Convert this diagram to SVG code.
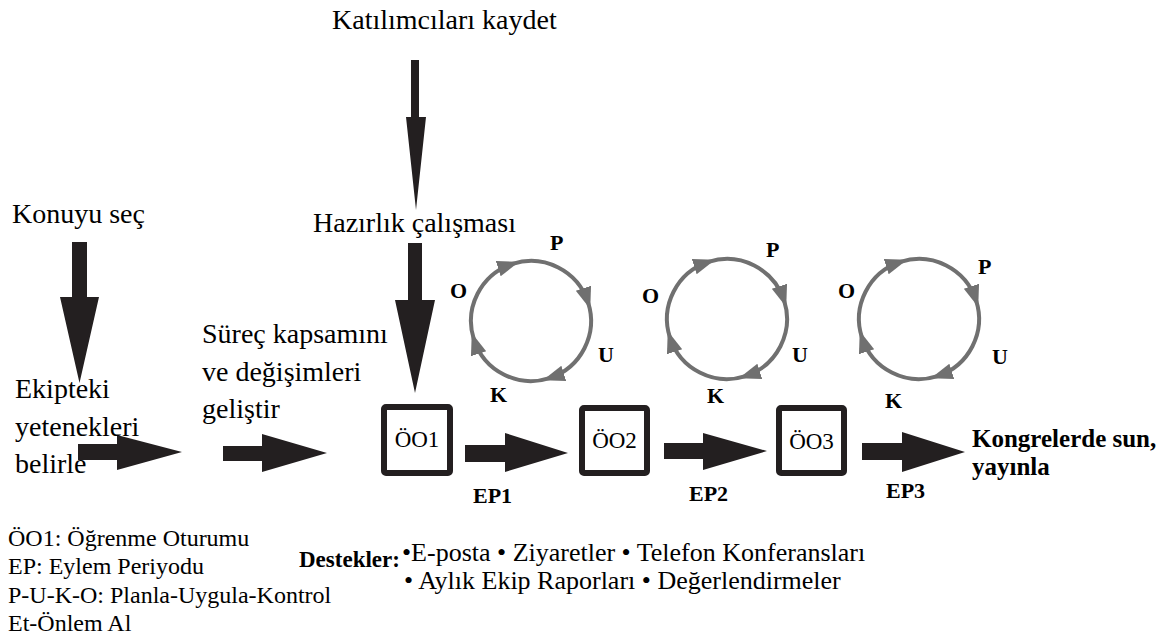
<svg xmlns="http://www.w3.org/2000/svg" width="1168" height="643" viewBox="0 0 1168 643">
<defs>
<marker id="ah" markerUnits="userSpaceOnUse" markerWidth="24" markerHeight="18" viewBox="0 -9 24 18" refX="15" refY="0" orient="auto">
<path d="M0,-8 L22,0 L0,8 Z" fill="#707070"/>
</marker>
<g id="cycle" fill="none" stroke="#707070" stroke-width="4">
<path marker-end="url(#ah)" d="M-57.06,18.54 A60,60 0 0 1 -18.54,-57.06"/>
<path marker-end="url(#ah)" d="M-18.54,-57.06 A60,60 0 0 1 57.06,-18.54"/>
<path marker-end="url(#ah)" d="M57.06,-18.54 A60,60 0 0 1 18.54,57.06"/>
<path marker-end="url(#ah)" d="M18.54,57.06 A60,60 0 0 1 -57.06,18.54"/>
</g>
</defs>
<rect width="1168" height="643" fill="#fff"/>

<g id="connectors" fill="#231f20">
<polygon points="411,60 419,60 419,117 426,117 416,210 406,117 411,117"/>
<polygon points="408,243 422,243 422,300 435,300 415,393 395,300 408,300"/>
<polygon points="72,242 87,242 87,297 99,297 79.5,383 60,297 72,297"/>
<polygon points="78,444 117,444 117,435 182,452 117,470 117,460 78,460"/>
<polygon points="223,446 262,446 262,434 327,453 262,472 262,461 223,461"/>
<polygon points="465,445 505,445 505,433 568,453 505,472 505,462 465,462"/>
<polygon points="664,443 703,443 703,433 767,451 703,470 703,459 664,459"/>
<polygon points="862,443 902,443 902,432 965,452 902,472 902,460 862,460"/>
</g>

<g id="katilimci" font-size="28"><text font-family="Liberation Serif" x="332" y="29">Katılımcıları kaydet</text></g>
<g id="hazirlik" font-size="28"><text font-family="Times New Roman" x="313" y="232">Hazırlık çalışması</text></g>
<g id="konuyu" font-size="28"><text font-family="Tinos" x="12" y="223">Konuyu seç</text></g>
<g id="ekipteki" font-size="28" font-family="serif"><text x="15" y="398">Ekipteki</text><text x="15" y="436">yetenekleri</text><text x="15" y="473">belirle</text></g>
<g id="surec" font-size="28" font-family="Liberation Serif, serif" font-weight="normal"><text x="202" y="343">Süreç kapsamını</text><text x="202" y="381">ve değişimleri</text><text x="202" y="418">geliştir</text></g>

<g id="oo1" font-size="23" font-family="Times New Roman, serif"><rect x="384" y="407" width="66" height="66" rx="2" fill="#fff" stroke="#231f20" stroke-width="6"/><text x="417" y="447" text-anchor="middle">ÖO1</text></g>
<g id="oo2" font-size="23" font-family="Times New Roman, serif"><rect x="582" y="408" width="65" height="65" rx="2" fill="#fff" stroke="#231f20" stroke-width="6"/><text x="614.5" y="448" text-anchor="middle">ÖO2</text></g>
<g id="oo3" font-size="23" font-family="Times New Roman, serif"><rect x="779" y="408" width="65" height="65" rx="2" fill="#fff" stroke="#231f20" stroke-width="6"/><text x="811.5" y="449" text-anchor="middle">ÖO3</text></g>

<g id="cycle1" font-size="22" font-weight="bold" font-family="Liberation Serif, serif"><use href="#cycle" transform="translate(531,321)"/>
<text x="550" y="250">P</text><text x="450" y="298">O</text><text x="598" y="362">U</text><text x="490" y="402">K</text></g>
<g id="cycle2" font-size="22" font-weight="bold" font-family="Liberation Serif, serif"><use href="#cycle" transform="translate(727,319)"/>
<text x="766" y="257">P</text><text x="642" y="303">O</text><text x="792" y="362">U</text><text x="707" y="403">K</text></g>
<g id="cycle3" font-size="22" font-weight="bold" font-family="Liberation Serif, serif"><use href="#cycle" transform="translate(919,319)"/>
<text x="978" y="274">P</text><text x="838" y="298">O</text><text x="992" y="364">U</text><text x="885" y="408">K</text></g>

<g id="ep1" font-size="22" font-weight="bold" font-family="Liberation Serif, serif"><text x="473" y="503">EP1</text></g>
<g id="ep2" font-size="22" font-weight="bold" font-family="Liberation Serif, serif"><text x="689" y="501">EP2</text></g>
<g id="ep3" font-size="22" font-weight="bold" font-family="Liberation Serif, serif"><text x="886" y="498">EP3</text></g>

<g id="kongre" font-size="25" font-weight="bold" font-family="Liberation Serif, serif"><text x="972" y="447">Kongrelerde sun,</text><text x="972" y="475">yayınla</text></g>

<g id="legend" font-size="24" font-family="Tinos, Liberation Serif, serif">
<text x="8" y="546">ÖO1: Öğrenme Oturumu</text>
<text x="8" y="574">EP: Eylem Periyodu</text>
<text x="8" y="603">P-U-K-O: Planla-Uygula-Kontrol</text>
<text x="8" y="631">Et-Önlem Al</text>
</g>
<g id="destekler" font-family="Liberation Serif, serif">
<text font-size="23" font-weight="bold" x="299" y="567">Destekler:</text>
<text font-size="26" x="402" y="561">•E-posta • Ziyaretler • Telefon Konferansları</text>
<text font-size="26" x="404" y="589">• Aylık Ekip Raporları • Değerlendirmeler</text>
</g>
</svg>
